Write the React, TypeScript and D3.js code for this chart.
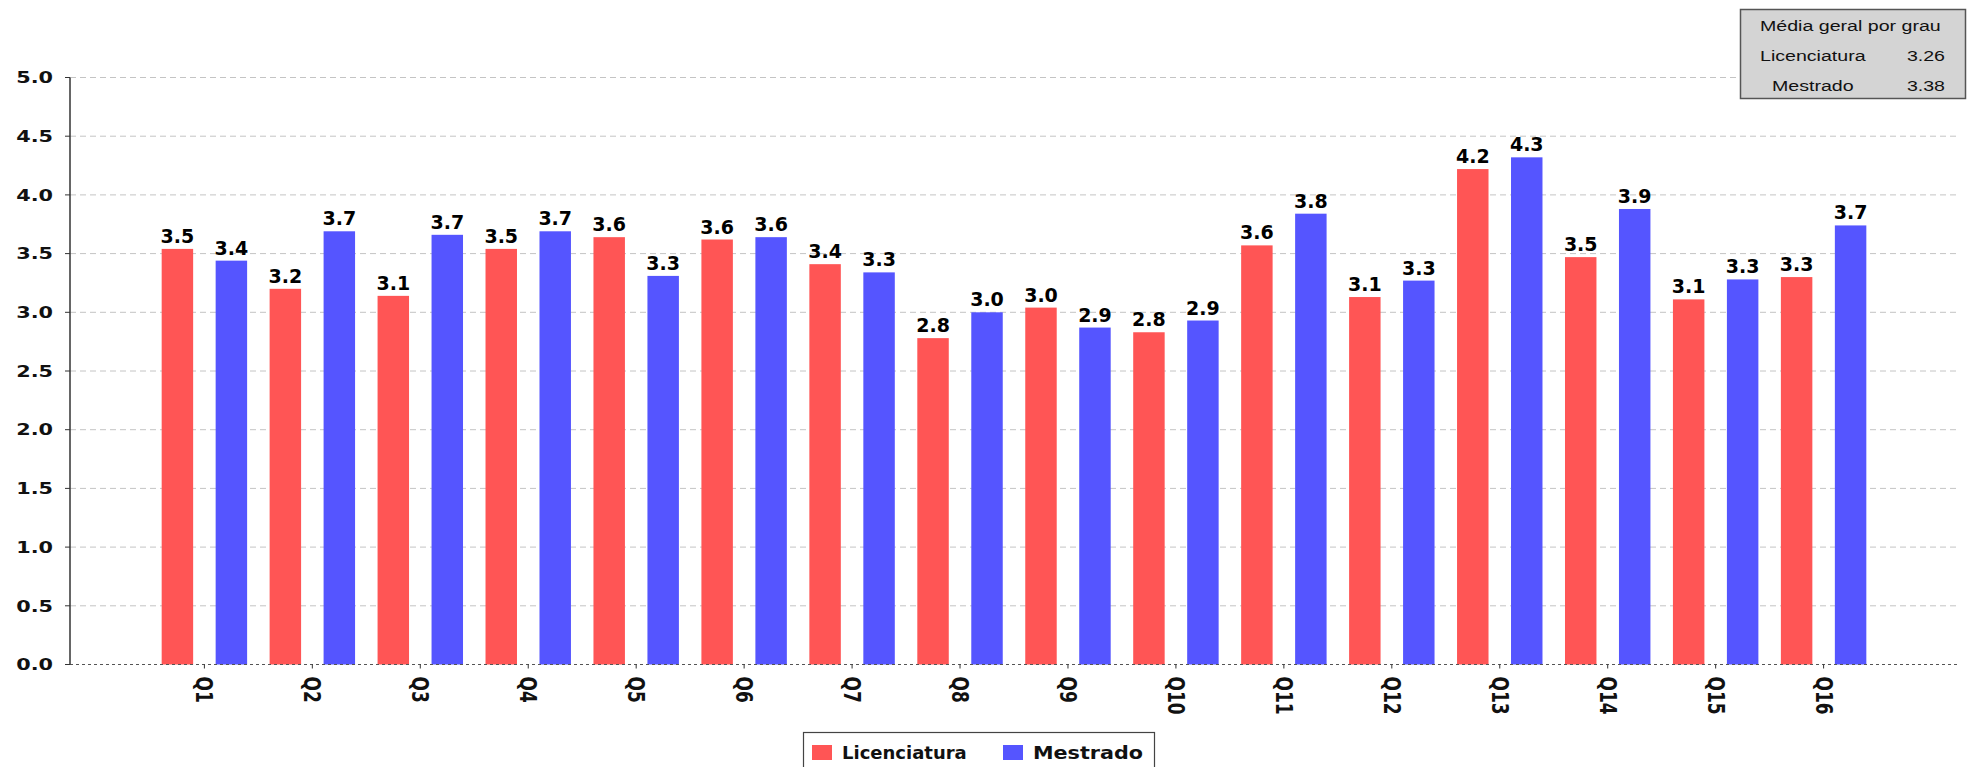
import React from 'react';
import * as d3 from 'd3';

// chart data
const categories = ['Q1', 'Q2', 'Q3', 'Q4', 'Q5', 'Q6', 'Q7', 'Q8', 'Q9', 'Q10', 'Q11', 'Q12', 'Q13', 'Q14', 'Q15', 'Q16'];
const seriesNames = ['Licenciatura', 'Mestrado'];
const licenciatura = [3.54, 3.2, 3.14, 3.54, 3.64, 3.62, 3.41, 2.78, 3.04, 2.83, 3.57, 3.13, 4.22, 3.47, 3.11, 3.3];
const mestrado = [3.44, 3.69, 3.66, 3.69, 3.31, 3.64, 3.34, 3.0, 2.87, 2.93, 3.84, 3.27, 4.32, 3.88, 3.28, 3.74];
const yTicks = [0, 0.5, 1, 1.5, 2, 2.5, 3, 3.5, 4, 4.5, 5];
const summaryTitle = 'Média geral por grau';
const summaryLabels = ['Licenciatura', 'Mestrado'];
const summaryValues = ['3.26', '3.38'];

const W = 1973;
const H = 767;
const colors = ['#ff5555', '#5555ff'];
const font = '"DejaVu Sans", sans-serif';

// text stretched horizontally, like the original picture
const SText = ({ x, y, sx = 1, rotate = 0, children, ...rest }: any) => (
  <text transform={`translate(${x},${y}) scale(${sx},1)${rotate ? ` rotate(${rotate})` : ''}`} {...rest}>
    {children}
  </text>
);

const App: React.FC = () => {
  const left = 70;
  const right = 1958;
  const top = 77.5;
  const bottom = 664.5;

  const x0 = d3.scaleBand<string>().domain(categories).range([left, right]).paddingInner(0).paddingOuter(0.745);
  const x1 = d3.scaleBand<string>().domain(seriesNames).range([0, x0.bandwidth()]).paddingInner(0.417).paddingOuter(0.2085);
  const y = d3.scaleLinear().domain([0, 5]).range([bottom, top]);

  const series = [licenciatura, mestrado];

  return (
    <div style={{ position: 'absolute', left: 0, top: 0 }}>
      <svg width={W} height={H} style={{ display: 'block', background: '#fff', fontFamily: font }}>
        {/* grid lines */}
        {yTicks.filter(t => t > 0).map(t => (
          <line key={t} x1={left} x2={1960} y1={y(t)} y2={y(t)} stroke="#c4c4c4" strokeWidth={1} strokeDasharray="6,4" />
        ))}

        {/* bars */}
        {seriesNames.map((s, si) => (
          <g key={s} fill={colors[si]}>
            {categories.map((c, i) => (
              <rect key={c} x={x0(c)! + x1(s)!} y={y(series[si][i])} width={x1.bandwidth()} height={y(0) - y(series[si][i])} />
            ))}
          </g>
        ))}

        {/* value labels */}
        {seriesNames.map((s, si) => (
          <g key={s} fontSize={19} fontWeight="bold" fill="#000" textAnchor="middle">
            {categories.map((c, i) => (
              <SText key={c} x={x0(c)! + x1(s)! + x1.bandwidth() / 2} y={y(series[si][i]) - 6} sx={1}>
                {series[si][i].toFixed(1)}
              </SText>
            ))}
          </g>
        ))}

        {/* zero line (x axis) */}
        <line x1={left} x2={1960} y1={y(0)} y2={y(0)} stroke="#555" strokeWidth={1.2} strokeDasharray="3,3" />

        {/* y axis */}
        <line x1={left} x2={left} y1={top} y2={bottom} stroke="#333" strokeWidth={1.5} />
        {yTicks.map(t => (
          <g key={t}>
            <line x1={left - 5} x2={left} y1={y(t)} y2={y(t)} stroke="#333" />
            <SText x={53} y={y(t)} sx={1.3} textAnchor="end" dy="0.36em" fontSize={16} fontWeight="bold" fill="#111">
              {t.toFixed(1)}
            </SText>
          </g>
        ))}

        {/* x axis ticks and labels */}
        {categories.map(c => {
          const cx = x0(c)! + x0.bandwidth() / 2;
          return (
            <g key={c}>
              <line x1={cx} x2={cx} y1={bottom} y2={bottom + 4} stroke="#333" />
              <SText x={cx} y={bottom + 12} sx={1.3} rotate={90} dy="0.36em" fontSize={17} fontWeight="bold" fill="#111">
                {c}
              </SText>
            </g>
          );
        })}

        {/* summary box */}
        <g fontFamily='"Liberation Sans", Arial, sans-serif' fontSize={14} fill="#111">
          <rect x={1740.5} y={9.5} width={225} height={89} fill="#d4d4d4" stroke="#555" strokeWidth={1.5} />
          <SText x={1760} y={31} sx={1.4}>{summaryTitle}</SText>
          {summaryLabels.map((l, i) => (
            <g key={l}>
              <SText x={i === 0 ? 1760 : 1772} y={61 + i * 30} sx={1.4}>{l}</SText>
              <SText x={1945} y={61 + i * 30} sx={1.4} textAnchor="end">{summaryValues[i]}</SText>
            </g>
          ))}
        </g>

        {/* legend */}
        <g>
          <rect x={803.5} y={732.5} width={351} height={50} fill="#fff" stroke="#444" strokeWidth={1.2} />
          {seriesNames.map((s, i) => {
            const lx = i === 0 ? 812 : 1003;
            return (
              <g key={s}>
                <rect x={lx} y={745} width={20} height={15} fill={colors[i]} />
                <SText x={lx + 30} y={759} sx={i === 0 ? 1 : 1.15} fontSize={18} fontWeight="bold" fill="#111">
                  {s}
                </SText>
              </g>
            );
          })}
        </g>
      </svg>
    </div>
  );
};

export default App;
